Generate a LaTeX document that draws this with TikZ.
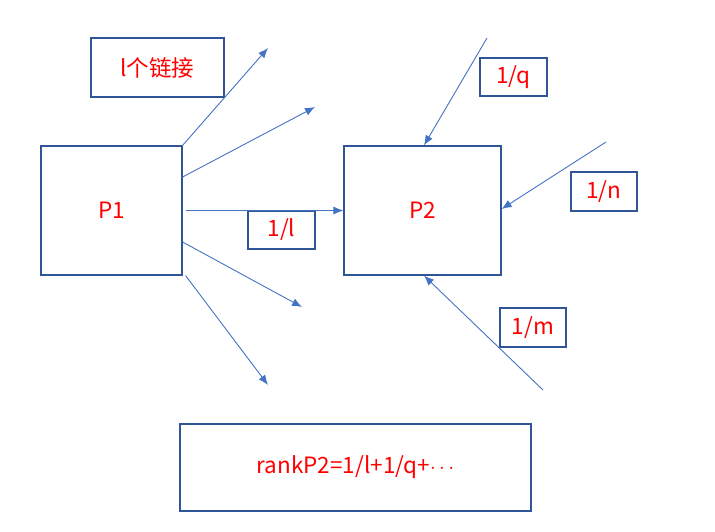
\documentclass[tikz,border=0pt]{standalone}
\usepackage{fontspec}
\setmainfont{Noto Sans CJK SC}
\usetikzlibrary{arrows.meta,positioning,calc}
\definecolor{boxblue}{HTML}{2F5597}
\definecolor{linkblue}{HTML}{4472C4}
\begin{document}
\begin{tikzpicture}[
    x=1pt, y=-1pt,
    block/.style={rectangle, draw=boxblue, line width=1.2pt, text=red, font=\fontsize{22.5}{26}\selectfont, inner sep=0pt},
    label/.style={block, minimum width=67pt, minimum height=38pt},
    line/.style={draw=linkblue, -{Latex[length=10pt,width=8pt]}, line width=0.9pt}
]
\useasboundingbox (0,0) rectangle (715,531);

% Nodes
\node[block, minimum width=141pt, minimum height=129pt] (p1) at (111.5,210.5) {P1};
\node[block, minimum width=157pt, minimum height=129pt] (p2) at (422.5,210.5) {P2};
\node[block, minimum width=133pt, minimum height=59pt] (links) at (157.5,67.5) {l个链接};
\node[label] (wl) at (281.5,230) {1/l};
\node[label] (wq) at (513.5,77) {1/q};
\node[label, minimum width=66pt, minimum height=39pt] (wn) at (604,191.5) {1/n};
\node[label, minimum width=66pt, minimum height=39pt] (wm) at (533,327.5) {1/m};
\node[block, minimum width=351pt, minimum height=87pt] (rank) at (355.5,467.5) {rankP2=1/l+1/q+$\cdots$};

% Free ends
\coordinate (out1) at (268,48);
\coordinate (out2) at (315,107);
\coordinate (out3) at (302,307);
\coordinate (out4) at (268,385);
\coordinate (inq) at (487,38);
\coordinate (inn) at (606,142);
\coordinate (inm) at (543,390);

% Lines out of P1
\draw[line] (p1.north east) -- (out1);
\draw[line] ([yshift=33.5pt]p1.east) -- (out2);
\draw[line, shorten <=3pt] (p1.east) -- (p2.west);
\draw[line] ([yshift=-31.5pt]p1.east) -- (out3);
\draw[line] ([xshift=3pt]p1.south east) -- (out4);

% Lines into P2
\draw[line] (inq) -- ([xshift=1.5pt]p2.north);
\draw[line] (inn) -- ([yshift=1.5pt]p2.east);
\draw[line] (inm) -- ([xshift=1.5pt]p2.south);

\end{tikzpicture}
\end{document}
